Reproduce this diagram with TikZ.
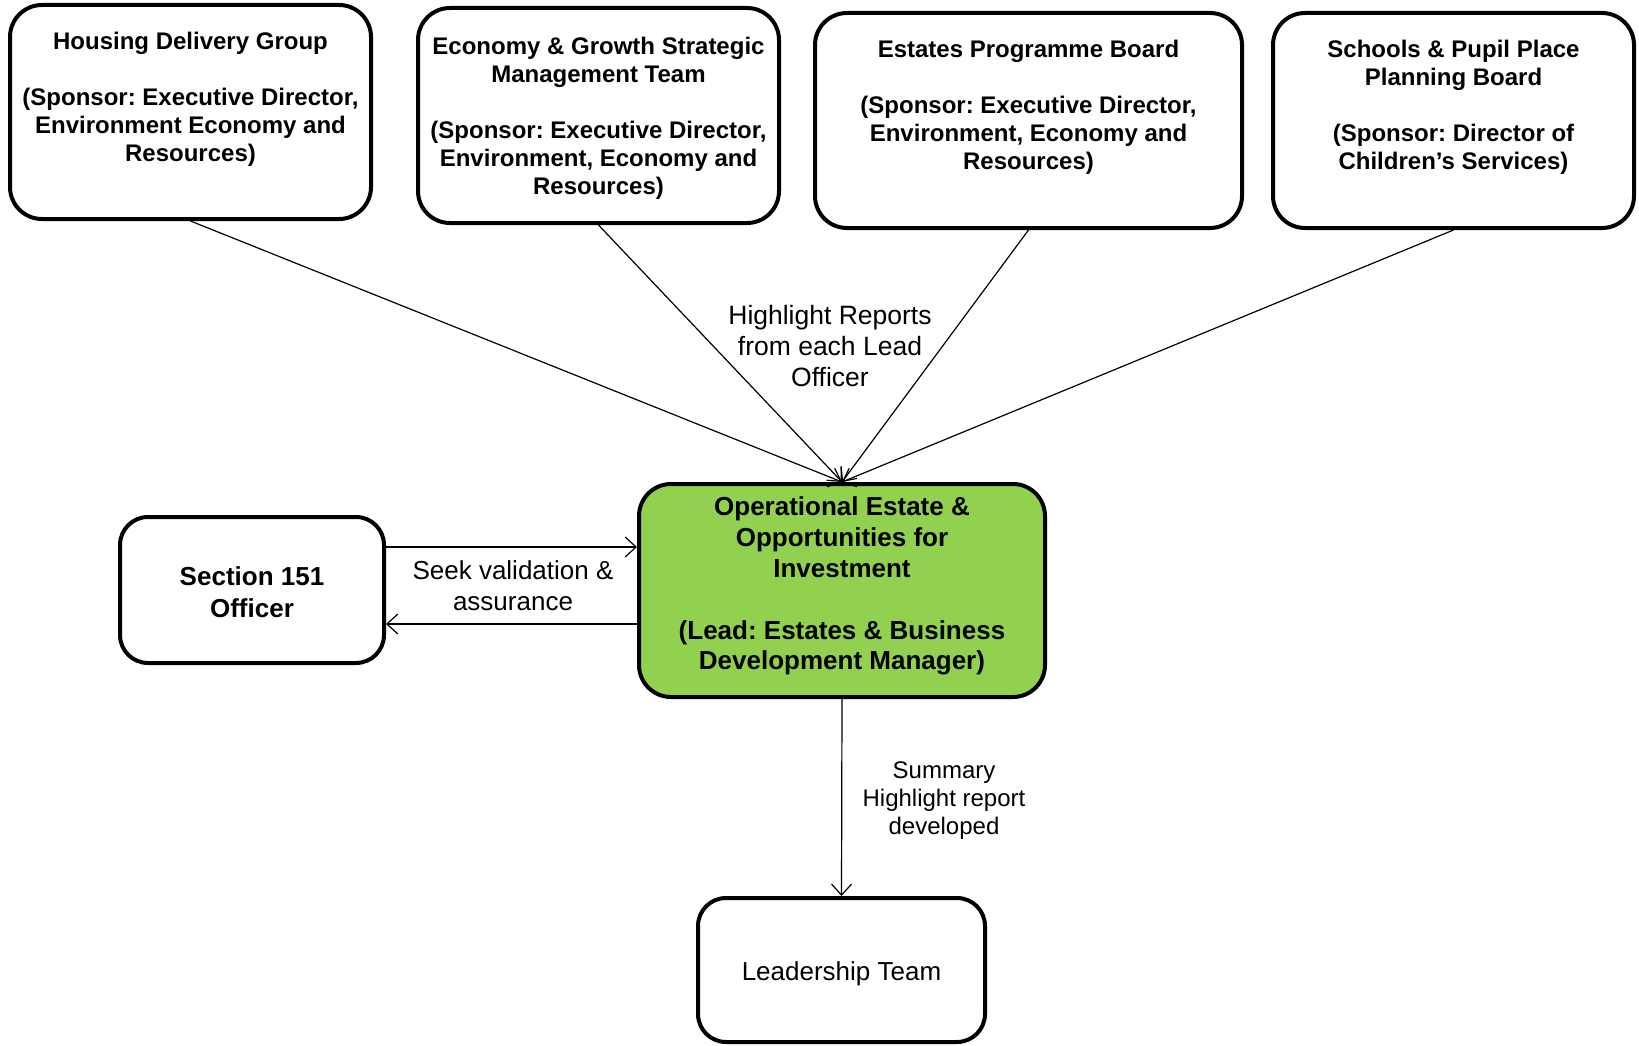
\documentclass[tikz,border=0pt]{standalone}
\usepackage{fontspec}
\setmainfont{Liberation Sans}
\usetikzlibrary{arrows.meta}
\frenchspacing
\begin{document}
\begin{tikzpicture}[x=1pt,y=-1pt,
  box/.style={draw, line width=4pt, rounded corners=32pt, align=center, inner sep=0pt},
  topbox/.style={box, font=\bfseries\fontsize{24}{28}\selectfont},
  bigbox/.style={box, font=\bfseries\fontsize{26}{30.8}\selectfont},
  lbl/.style={align=center, inner sep=0pt},
  arr/.style={line width=1.2pt, -{Straight Barb[length=11pt,width=20pt,line width=1.2pt]}}
]
\useasboundingbox (0,0) rectangle (1639,1046);
\definecolor{opgreen}{HTML}{92D050}

\node[topbox, minimum width=361pt, minimum height=214pt] (hdg) at (190.5,112)
  {Housing Delivery Group\\[28pt](Sponsor: Executive Director,\\Environment Economy and\\Resources)\\[-6pt]\strut};
\node[topbox, minimum width=361pt, minimum height=215pt] (egs) at (598.5,115.5)
  {\rule{0pt}{22pt}Economy \& Growth Strategic\\Management Team\\[28pt](Sponsor: Executive Director,\\Environment, Economy and\\Resources)};
\node[topbox, minimum width=427pt, minimum height=215pt] (epb) at (1028.5,120.5)
  {Estates Programme Board\\[28pt](Sponsor: Executive Director,\\Environment, Economy and\\Resources)\\[-6pt]\strut};
\node[topbox, minimum width=361pt, minimum height=215pt] (spp) at (1453.5,120.5)
  {Schools \& Pupil Place\\Planning Board\\[28pt](Sponsor: Director of\\Children’s Services)\\[-6pt]\strut};

\node[bigbox, fill=opgreen, minimum width=406pt, minimum height=213pt] (op) at (842,590.5)
  {Operational Estate \&\\Opportunities for\\Investment\\[30.8pt](Lead: Estates \& Business\\Development Manager)\rule[-14pt]{0pt}{0pt}};
\node[box, rounded corners=28pt, font=\bfseries\fontsize{26}{32.4}\selectfont, minimum width=264pt, minimum height=146pt] (sec) at (252,590)
  {\rule{0pt}{23pt}Section 151\\Officer};
\node[box, rounded corners=28pt, font=\fontsize{26}{31}\selectfont, minimum width=287pt, minimum height=144pt] (lead) at (841.5,970)
  {\rule{0pt}{27pt}Leadership Team};

\draw[arr] (hdg.south) -- (op.north);
\draw[arr] (egs.south) -- (op.north);
\draw[arr] (epb.south) -- (op.north);
\draw[arr] (spp.south) -- (op.north);
\node[lbl, font=\fontsize{26.5}{30.8}\selectfont] (hl) at (830,346) {Highlight Reports\\from each Lead\\Officer};

\draw[arr] (sec.east |- 0,547) -- (op.west |- 0,547);
\draw[arr] (op.west |- 0,624) -- (sec.east |- 0,624);
\node[lbl, font=\fontsize{26}{31.4}\selectfont] (seek) at (513,585.5) {Seek validation \&\\assurance};

\draw[arr] (op.south) -- (lead.north);
\node[lbl, font=\fontsize{24}{27.7}\selectfont] (sum) at (944,800.5) {Summary\\Highlight report\\developed};
\end{tikzpicture}
\end{document}
